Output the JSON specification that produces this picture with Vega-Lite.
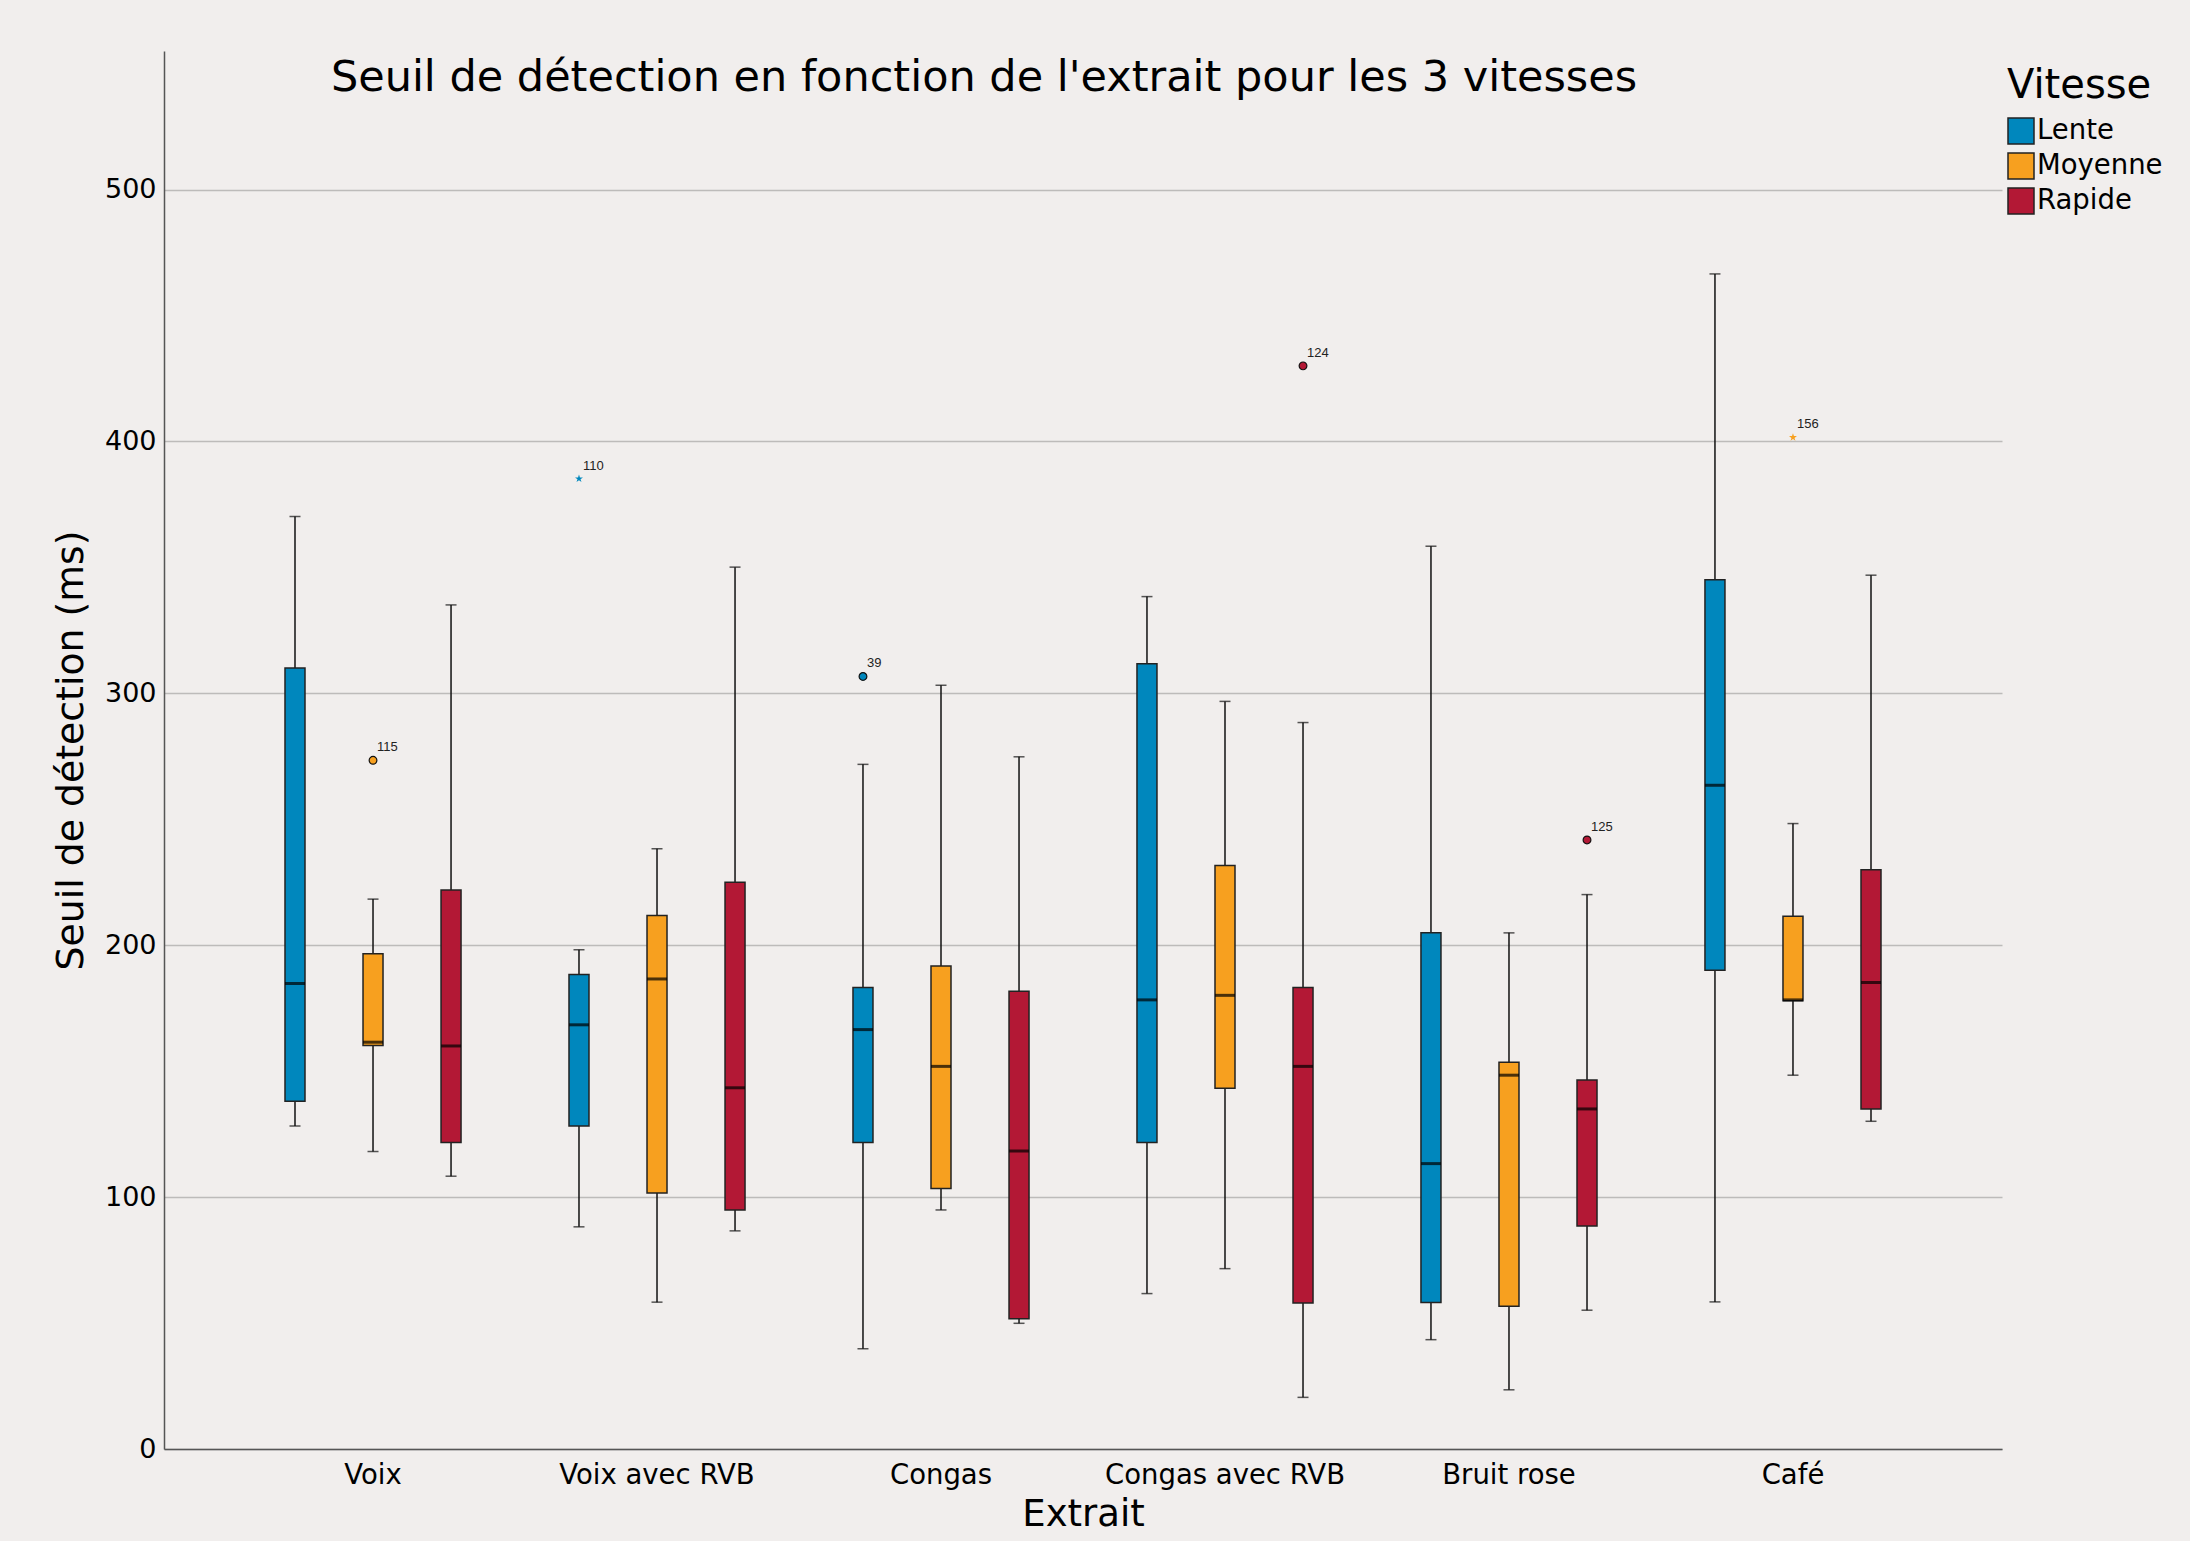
{
  "$schema": "https://vega.github.io/schema/vega-lite/v6.json",
  "width": 1838,
  "height": 1398,
  "autosize": {"type": "none"},
  "padding": {"left": 164, "top": 51, "right": 188, "bottom": 92},
  "background": "#F1EEED",
  "config": {
    "view": {"stroke": null},
    "font": "DejaVu Sans",
    "axis": {"labelFont": "DejaVu Sans", "titleFont": "DejaVu Sans", "labelColor": "#000000", "titleColor": "#000000", "titleFontWeight": "normal"},
    "legend": {"labelFont": "DejaVu Sans", "titleFont": "DejaVu Sans"}
  },
  "title": {
    "text": "Seuil de détection en fonction de l'extrait pour les 3 vitesses",
    "font": "DejaVu Sans",
    "fontSize": 43,
    "fontWeight": "normal",
    "color": "#000000",
    "anchor": "middle",
    "dx": -99,
    "offset": -83,
    "baseline": "alphabetic"
  },
  "datasets": {
    "boxes": [
      {"Extrait": "Voix", "Vitesse": "Lente", "low": 128.2, "q1": 138.1, "median": 184.8, "q3": 310.1, "high": 370.2},
      {"Extrait": "Voix", "Vitesse": "Moyenne", "low": 118.1, "q1": 160.2, "median": 161.5, "q3": 196.6, "high": 218.3},
      {"Extrait": "Voix", "Vitesse": "Rapide", "low": 108.3, "q1": 121.7, "median": 160.0, "q3": 221.9, "high": 335.1},
      {"Extrait": "Voix avec RVB", "Vitesse": "Lente", "low": 88.2, "q1": 128.2, "median": 168.4, "q3": 188.4, "high": 198.2},
      {"Extrait": "Voix avec RVB", "Vitesse": "Moyenne", "low": 58.3, "q1": 101.6, "median": 186.6, "q3": 211.8, "high": 238.3},
      {"Extrait": "Voix avec RVB", "Vitesse": "Rapide", "low": 86.6, "q1": 94.9, "median": 143.4, "q3": 225.0, "high": 350.1},
      {"Extrait": "Congas", "Vitesse": "Lente", "low": 39.8, "q1": 121.7, "median": 166.5, "q3": 183.2, "high": 271.8},
      {"Extrait": "Congas", "Vitesse": "Moyenne", "low": 94.9, "q1": 103.4, "median": 151.9, "q3": 191.7, "high": 303.2},
      {"Extrait": "Congas", "Vitesse": "Rapide", "low": 49.9, "q1": 51.7, "median": 118.3, "q3": 181.7, "high": 274.8},
      {"Extrait": "Congas avec RVB", "Vitesse": "Lente", "low": 61.7, "q1": 121.7, "median": 178.3, "q3": 311.7, "high": 338.4},
      {"Extrait": "Congas avec RVB", "Vitesse": "Moyenne", "low": 71.6, "q1": 143.2, "median": 180.1, "q3": 231.6, "high": 296.8},
      {"Extrait": "Congas avec RVB", "Vitesse": "Rapide", "low": 20.5, "q1": 58.0, "median": 151.9, "q3": 183.2, "high": 288.4},
      {"Extrait": "Bruit rose", "Vitesse": "Lente", "low": 43.4, "q1": 58.2, "median": 113.3, "q3": 204.9, "high": 358.4},
      {"Extrait": "Bruit rose", "Vitesse": "Moyenne", "low": 23.5, "q1": 56.7, "median": 148.4, "q3": 153.5, "high": 204.9},
      {"Extrait": "Bruit rose", "Vitesse": "Rapide", "low": 55.1, "q1": 88.5, "median": 135.0, "q3": 146.5, "high": 220.1},
      {"Extrait": "Café", "Vitesse": "Lente", "low": 58.4, "q1": 190.1, "median": 263.5, "q3": 345.1, "high": 466.5},
      {"Extrait": "Café", "Vitesse": "Moyenne", "low": 148.4, "q1": 178.0, "median": 178.3, "q3": 211.5, "high": 248.3},
      {"Extrait": "Café", "Vitesse": "Rapide", "low": 130.1, "q1": 135.0, "median": 185.2, "q3": 230.0, "high": 346.9}
    ],
    "outliers": [
      {"Extrait": "Voix", "Vitesse": "Moyenne", "value": 273.4, "case": "115", "kind": "outlier"},
      {"Extrait": "Voix avec RVB", "Vitesse": "Lente", "value": 385.2, "case": "110", "kind": "extreme"},
      {"Extrait": "Congas", "Vitesse": "Lente", "value": 306.7, "case": "39", "kind": "outlier"},
      {"Extrait": "Congas avec RVB", "Vitesse": "Rapide", "value": 430.0, "case": "124", "kind": "outlier"},
      {"Extrait": "Bruit rose", "Vitesse": "Rapide", "value": 241.8, "case": "125", "kind": "outlier"},
      {"Extrait": "Café", "Vitesse": "Moyenne", "value": 401.6, "case": "156", "kind": "extreme"}
    ]
  },
  "encoding": {
    "x": {
      "field": "Extrait",
      "type": "nominal",
      "sort": ["Voix", "Voix avec RVB", "Congas", "Congas avec RVB", "Bruit rose", "Café"],
      "scale": {"domain": ["Voix", "Voix avec RVB", "Congas", "Congas avec RVB", "Bruit rose", "Café"], "paddingInner": 0, "paddingOuter": 0.236},
      "axis": {
        "title": "Extrait",
        "titleFontSize": 37,
        "titlePadding": 8,
        "labelAngle": 0,
        "labelFontSize": 27.5,
        "labelPadding": 12,
        "labelLimit": 0,
        "tickSize": 0,
        "domainColor": "#555555",
        "domainWidth": 1.5,
        "grid": false
      }
    },
    "xOffset": {
      "field": "Vitesse",
      "type": "nominal",
      "scale": {"domain": ["Lente", "Moyenne", "Rapide"], "paddingInner": 0, "paddingOuter": 0.32}
    }
  },
  "layer": [
    {
      "data": {"name": "boxes"},
      "mark": {"type": "rule", "color": "#111111", "strokeWidth": 1.5},
      "encoding": {
        "y": {
          "field": "low",
          "type": "quantitative",
          "title": "Seuil de détection (ms)",
          "scale": {"domain": [0, 555], "nice": false, "zero": true},
          "axis": {
            "values": [0, 100, 200, 300, 400, 500],
            "labelFontSize": 27,
            "labelPadding": 8,
            "tickSize": 0,
            "titleFontSize": 37.8,
            "titlePadding": 14,
            "domainColor": "#555555",
            "domainWidth": 1.5,
            "grid": true,
            "gridColor": "#BDBBBA",
            "gridWidth": 1.5
          }
        },
        "y2": {"field": "high"}
      }
    },
    {
      "data": {"name": "boxes"},
      "mark": {"type": "tick", "color": "#111111", "size": 11, "thickness": 1.5},
      "encoding": {
        "y": {"field": "low", "type": "quantitative", "title": "Seuil de détection (ms)", "scale": {"domain": [0, 555], "nice": false}}
      }
    },
    {
      "data": {"name": "boxes"},
      "mark": {"type": "tick", "color": "#111111", "size": 11, "thickness": 1.5},
      "encoding": {
        "y": {"field": "high", "type": "quantitative", "title": "Seuil de détection (ms)", "scale": {"domain": [0, 555], "nice": false}}
      }
    },
    {
      "data": {"name": "boxes"},
      "mark": {"type": "bar", "size": 20, "stroke": "#222222", "strokeWidth": 1.5, "opacity": 1},
      "encoding": {
        "y": {"field": "q1", "type": "quantitative", "title": "Seuil de détection (ms)", "scale": {"domain": [0, 555], "nice": false}},
        "y2": {"field": "q3"},
        "color": {
          "field": "Vitesse",
          "type": "nominal",
          "scale": {"domain": ["Lente", "Moyenne", "Rapide"], "range": ["#0087BD", "#F7A01F", "#B31835"]},
          "legend": {
            "title": "Vitesse",
            "orient": "none",
            "legendX": 1843,
            "legendY": 15,
            "titleFontSize": 40,
            "titleFontWeight": "normal",
            "titleColor": "#000000",
            "titlePadding": 11,
            "labelFontSize": 27.5,
            "labelColor": "#000000",
            "labelOffset": 2,
            "symbolType": "square",
            "symbolSize": 676,
            "symbolStrokeColor": "#222222",
            "symbolStrokeWidth": 1.5,
            "symbolOpacity": 1,
            "rowPadding": 3
          }
        }
      }
    },
    {
      "data": {"name": "boxes"},
      "mark": {"type": "tick", "color": "#000000", "size": 20, "thickness": 3},
      "encoding": {
        "y": {"field": "median", "type": "quantitative", "title": "Seuil de détection (ms)", "scale": {"domain": [0, 555], "nice": false}}
      }
    },
    {
      "data": {"name": "outliers"},
      "transform": [{"filter": "datum.kind === 'outlier'"}],
      "mark": {"type": "point", "shape": "circle", "filled": true, "size": 60, "stroke": "#111111", "strokeWidth": 1.2, "opacity": 1},
      "encoding": {
        "y": {"field": "value", "type": "quantitative", "title": "Seuil de détection (ms)", "scale": {"domain": [0, 555], "nice": false}},
        "fill": {"field": "Vitesse", "type": "nominal", "scale": {"domain": ["Lente", "Moyenne", "Rapide"], "range": ["#0087BD", "#F7A01F", "#B31835"]}, "legend": null}
      }
    },
    {
      "data": {"name": "outliers"},
      "transform": [{"filter": "datum.kind === 'extreme'"}],
      "mark": {"type": "point", "shape": "M0,-1L0.2245,-0.309L0.951,-0.309L0.363,0.118L0.588,0.809L0,0.382L-0.588,0.809L-0.363,0.118L-0.951,-0.309L-0.2245,-0.309Z", "filled": true, "size": 70, "strokeWidth": 0, "opacity": 1},
      "encoding": {
        "y": {"field": "value", "type": "quantitative", "title": "Seuil de détection (ms)", "scale": {"domain": [0, 555], "nice": false}},
        "fill": {"field": "Vitesse", "type": "nominal", "scale": {"domain": ["Lente", "Moyenne", "Rapide"], "range": ["#0087BD", "#F7A01F", "#B31835"]}, "legend": null}
      }
    },
    {
      "data": {"name": "outliers"},
      "mark": {"type": "text", "font": "Liberation Sans", "fontSize": 13, "color": "#222222", "align": "left", "baseline": "alphabetic", "dx": 4, "dy": -9},
      "encoding": {
        "y": {"field": "value", "type": "quantitative", "title": "Seuil de détection (ms)", "scale": {"domain": [0, 555], "nice": false}},
        "text": {"field": "case", "type": "nominal"}
      }
    }
  ]
}
